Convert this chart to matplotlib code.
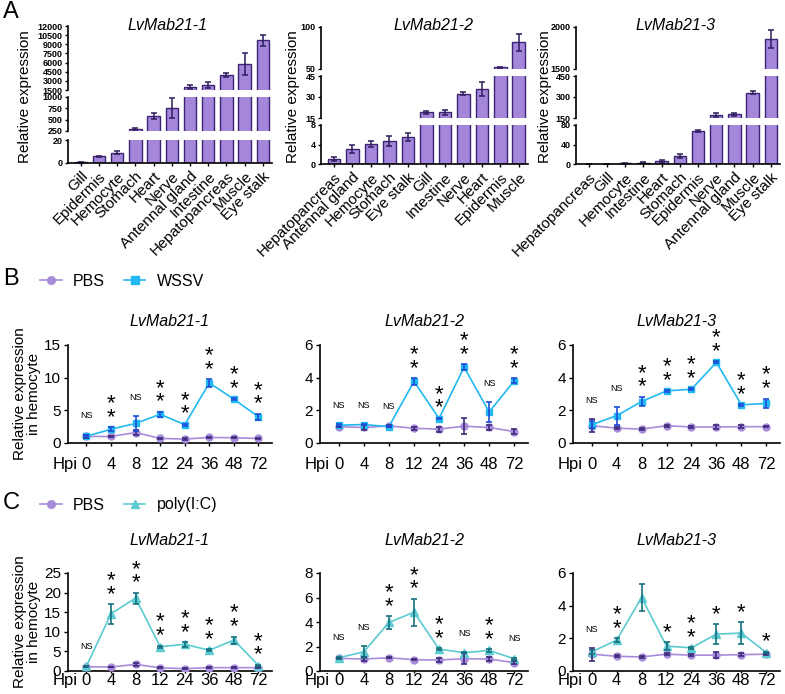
import matplotlib
matplotlib.use("Agg")
import matplotlib.pyplot as plt
from matplotlib.lines import Line2D
import numpy as np

plt.rcParams['font.family'] = ['Liberation Sans', 'DejaVu Sans']

W, H = 785, 694

# ---------------- panel A : tissue distribution ----------------
a1_tissues = ['Gill', 'Epidermis', 'Hemocyte', 'Stomach', 'Heart', 'Nerve',
              'Antennal gland', 'Intestine', 'Hepatopancreas', 'Muscle', 'Eye stalk']
a1_mean = [0.6, 5.7, 9.1, 300, 580, 760, 2000, 2300, 4000, 5800, 9650]
a1_err = [0.3, 0.6, 1.5, 20, 70, 215, 400, 450, 300, 1800, 900]

a2_tissues = ['Hepatopancreas', 'Antennal gland', 'Hemocyte', 'Stomach', 'Eye stalk',
              'Gill', 'Intestine', 'Nerve', 'Heart', 'Epidermis', 'Muscle']
a2_mean = [1.1, 3.15, 4.1, 4.65, 5.6, 19.0, 19.0, 32.5, 35.5, 52, 82]
a2_err = [0.4, 0.8, 0.6, 1.0, 0.8, 1.0, 1.8, 1.3, 5.0, 0.5, 10]

a3_tissues = ['Hepatopancreas', 'Gill', 'Hemocyte', 'Intestine', 'Heart', 'Stomach',
              'Epidermis', 'Nerve', 'Antennal gland', 'Muscle', 'Eye stalk']
a3_mean = [0.3, 0.5, 1.5, 2.5, 6, 16, 67, 169, 176, 332, 1855]
a3_err = [0.1, 0.1, 0.5, 0.8, 3, 4, 2, 15, 12, 12, 110]

# ---------------- panels B and C : time course ----------------
hpi = ['0', '4', '8', '12', '24', '36', '48', '72']

b1_pbs = [1.0, 1.0, 1.6, 0.7, 0.6, 0.85, 0.8, 0.7]
b1_pbs_err = [0.3, 0.1, 0.4, 0.1, 0.1, 0.1, 0.1, 0.1]
b1_wssv = [1.03, 2.1, 3.0, 4.4, 2.8, 9.2, 6.7, 4.0]
b1_wssv_err = [0.15, 0.3, 1.1, 0.4, 0.15, 0.6, 0.15, 0.5]
b1_sig = ['NS', '**', 'NS', '**', '**', '**', '**', '**']

b2_pbs = [1.0, 0.95, 1.05, 0.9, 0.85, 1.03, 0.95, 0.7]
b2_pbs_err = [0.05, 0.15, 0.05, 0.1, 0.15, 0.5, 0.15, 0.15]
b2_wssv = [1.09, 1.13, 1.0, 3.77, 1.5, 4.64, 1.9, 3.8]
b2_wssv_err = [0.05, 0.05, 0.05, 0.2, 0.05, 0.2, 0.6, 0.15]
b2_sig = ['NS', 'NS', 'NS', '**', '**', '**', 'NS', '**']

b3_pbs = [1.06, 0.91, 0.85, 1.06, 0.98, 0.98, 1.0, 1.0]
b3_pbs_err = [0.4, 0.05, 0.05, 0.05, 0.05, 0.15, 0.1, 0.05]
b3_wssv = [1.12, 1.67, 2.54, 3.19, 3.29, 4.94, 2.34, 2.42]
b3_wssv_err = [0.2, 0.55, 0.3, 0.05, 0.05, 0.05, 0.05, 0.3]
b3_sig = ['NS', 'NS', '**', '**', '**', '**', '**', '**']

c1_pbs = [1.1, 1.0, 1.7, 0.8, 0.6, 0.85, 0.85, 0.85]
c1_pbs_err = [0.2, 0.1, 0.3, 0.1, 0.1, 0.1, 0.1, 0.1]
c1_poly = [1.2, 14.6, 18.6, 6.2, 6.8, 5.3, 7.9, 1.4]
c1_poly_err = [0.2, 2.5, 1.4, 0.3, 0.6, 0.3, 0.9, 0.2]
c1_sig = ['NS', '**', '**', '**', '**', '**', '**', '**']

c2_pbs = [1.03, 0.98, 1.08, 0.92, 0.9, 1.0, 0.98, 0.68]
c2_pbs_err = [0.05, 0.15, 0.05, 0.05, 0.15, 0.45, 0.2, 0.1]
c2_poly = [1.08, 1.57, 3.96, 4.8, 1.79, 1.49, 1.68, 1.0]
c2_poly_err = [0.1, 0.5, 0.5, 1.1, 0.1, 0.05, 0.1, 0.1]
c2_sig = ['NS', 'NS', '**', '**', '**', 'NS', '**', 'NS']

c3_pbs = [1.03, 0.9, 0.86, 1.03, 0.97, 0.97, 1.0, 1.03]
c3_pbs_err = [0.4, 0.05, 0.05, 0.05, 0.05, 0.2, 0.1, 0.05]
c3_poly = [1.17, 1.89, 4.5, 1.52, 1.42, 2.26, 2.32, 1.13]
c3_poly_err = [0.1, 0.1, 0.85, 0.25, 0.05, 0.6, 0.65, 0.05]
c3_sig = ['NS', '**', '**', '*', '**', '*', '*', '*']

BAR = '#A486DA'
BAR_EDGE = '#3B2472'
BAR_ERR = '#2E1D5C'
PBS = '#A88BDB'
PBS_ERR = '#3D2B7A'
WSSV = '#22B8F2'
WSSV_ERR = '#1D4ED8'
POLY = '#5CCAD2'
POLY_ERR = '#16707F'

fig = plt.figure(figsize=(W / 100, H / 100), dpi=100)


def px_axes(left, top, right, bottom):
    return fig.add_axes([left / W, 1 - bottom / H, (right - left) / W, (bottom - top) / H])


def broken_bars(left, right, segs, names, mean, err, title, title_x, ylab_x):
    x = np.arange(len(names))
    for k, (lo, hi, ytop, ybot, ticks) in enumerate(segs):
        ax = px_axes(left, ytop, right, ybot)
        ax.bar(x, mean, width=0.68, color=BAR, edgecolor=BAR_EDGE, linewidth=1.0)
        ax.errorbar(x, mean, yerr=err, fmt='none', ecolor=BAR_ERR, elinewidth=1.1,
                    capsize=2.5, capthick=1.1)
        ax.set_ylim(lo, hi)
        ax.set_xlim(-0.7, len(names) - 0.5)
        ax.set_yticks(ticks)
        ax.set_yticklabels([str(t) for t in ticks], fontsize=6.5, fontweight='bold')
        ax.tick_params(axis='y', length=2.5, width=1.0, pad=1.5)
        for s in ['top', 'right']:
            ax.spines[s].set_visible(False)
        ax.spines['left'].set_linewidth(1.2)
        ax.spines['bottom'].set_linewidth(1.2)
        if k == 0:
            ax.set_xticks(x)
            ax.set_xticklabels(names, rotation=45, ha='right', va='top',
                               rotation_mode='anchor', fontsize=11)
            ax.tick_params(axis='x', length=2.5, width=1.0, pad=2)
        else:
            ax.spines['bottom'].set_visible(False)
            ax.set_xticks([])
    fig.text(title_x / W, 1 - 26 / H, title, fontsize=11.5, fontstyle='italic',
             ha='center', va='center')
    fig.text(ylab_x / W, 1 - 97 / H, 'Relative expression', fontsize=11,
             rotation=90, ha='center', va='center')


broken_bars(68, 272,
            [(0, 20, 140, 163, [0, 20]),
             (250, 1000, 97, 131, [250, 500, 750, 1000]),
             (1500, 12000, 26, 90, list(range(1500, 12001, 1500)))],
            a1_tissues, a1_mean, a1_err, 'LvMab21-1', 167, 25)
broken_bars(321, 528,
            [(0, 8, 125, 164, [0, 4, 8]),
             (15, 45, 76, 118, [15, 30, 45]),
             (50, 100, 27, 69, [50, 100])],
            a2_tissues, a2_mean, a2_err, 'LvMab21-2', 434, 293)
broken_bars(576, 780,
            [(0, 80, 125, 164, [0, 40, 80]),
             (150, 450, 76, 118, [150, 300, 450]),
             (1500, 2000, 27, 69, [1500, 2000])],
            a3_tissues, a3_mean, a3_err, 'LvMab21-3', 675, 545)

STAR_SIZE = 16


def time_course(left, right, top, bottom, pbs, pbs_err, trt, trt_err, sig, ymax, yticks,
                color, ecolor, marker, ms, title, title_pad, xlen, xpad):
    ax = px_axes(left, top, right, bottom)
    x = np.arange(len(hpi))
    ax.plot(x, pbs, color=PBS, lw=1.2, marker='o', ms=5, zorder=3)
    ax.plot(x, trt, color=color, lw=1.2, marker=marker, ms=ms, zorder=3)
    ax.errorbar(x, pbs, yerr=pbs_err, fmt='none', ecolor=PBS_ERR, elinewidth=1.2,
                capsize=2.5, capthick=1.2, zorder=4)
    ax.errorbar(x, trt, yerr=trt_err, fmt='none', ecolor=ecolor, elinewidth=1.2,
                capsize=2.5, capthick=1.2, zorder=4)
    ax.set_xlim(-0.75, len(hpi) - 0.45)
    ax.set_ylim(0, ymax)
    ax.set_yticks(yticks)
    ax.set_xticks(x)
    ax.set_xticklabels(hpi, fontsize=12)
    ax.tick_params(axis='y', labelsize=11, length=3, width=1.0, pad=2)
    ax.tick_params(axis='x', length=xlen, width=1.0, pad=xpad)
    for s in ['top', 'right']:
        ax.spines[s].set_visible(False)
    ax.spines['left'].set_linewidth(1.2)
    ax.spines['bottom'].set_linewidth(1.2)
    ax.set_title(title, fontsize=11.5, fontstyle='italic', pad=title_pad)
    ax.annotate('Hpi', xy=(0, 0), xycoords='axes fraction', xytext=(-2, -(xlen + xpad)),
                textcoords='offset points', ha='center', va='top', fontsize=12)
    for i, s in enumerate(sig):
        y = max(pbs[i] + pbs_err[i], trt[i] + trt_err[i]) + 0.17 * ymax
        if s == 'NS':
            ax.text(i, y + 0.02 * ymax, 'NS', fontsize=6.5, ha='center', va='center')
        else:
            ax.annotate('\n'.join(s), xy=(i, y), xytext=(0, -0.79 * STAR_SIZE),
                        textcoords='offset points', ha='center', va='bottom',
                        fontsize=STAR_SIZE, linespacing=0.55)
    return ax


b_axes = [
    time_course(68, 272, 345, 443, b1_pbs, b1_pbs_err, b1_wssv, b1_wssv_err, b1_sig,
                15, [0, 5, 10, 15], WSSV, WSSV_ERR, 's', 5, 'LvMab21-1', 14, 2.5, 7.5),
    time_course(320, 528, 345, 443, b2_pbs, b2_pbs_err, b2_wssv, b2_wssv_err, b2_sig,
                6, [0, 2, 4, 6], WSSV, WSSV_ERR, 's', 5, 'LvMab21-2', 14, 2.5, 7.5),
    time_course(573, 780, 345, 443, b3_pbs, b3_pbs_err, b3_wssv, b3_wssv_err, b3_sig,
                6, [0, 2, 4, 6], WSSV, WSSV_ERR, 's', 5, 'LvMab21-3', 14, 2.5, 7.5),
]
c_axes = [
    time_course(68, 272, 573, 671, c1_pbs, c1_pbs_err, c1_poly, c1_poly_err, c1_sig,
                25, [0, 5, 10, 15, 20, 25], POLY, POLY_ERR, '^', 5.5, 'LvMab21-1', 20, 1.5, 0),
    time_course(320, 528, 573, 671, c2_pbs, c2_pbs_err, c2_poly, c2_poly_err, c2_sig,
                8, [0, 2, 4, 6, 8], POLY, POLY_ERR, '^', 5.5, 'LvMab21-2', 20, 1.5, 0),
    time_course(573, 780, 573, 671, c3_pbs, c3_pbs_err, c3_poly, c3_poly_err, c3_sig,
                6, [0, 2, 4, 6], POLY, POLY_ERR, '^', 5.5, 'LvMab21-3', 20, 1.5, 0),
]

for ypx in [394, 622]:
    fig.text(27 / W, 1 - ypx / H, 'Relative expression\nin hemocyte', fontsize=11,
             rotation=90, ha='center', va='center', linespacing=1.05, multialignment='center')

# legends
for ypx, lab, col, mk in [(281, 'WSSV', WSSV, 's'), (505, 'poly(I:C)', POLY, '^')]:
    handles = [Line2D([], [], color=PBS, marker='o', ms=5.5, lw=1.2),
               Line2D([], [], color=col, marker=mk, ms=6, lw=1.2)]
    fig.legend(handles, ['PBS', lab], loc='center left', bbox_to_anchor=(40 / W, 1 - ypx / H),
               ncol=2, frameon=False, fontsize=11.5, handlelength=1.35, handletextpad=0.7,
               columnspacing=1.2, borderpad=0, borderaxespad=0)

# panel letters
for lab, ypx in [('A', 12), ('B', 279), ('C', 503)]:
    fig.text(3 / W, 1 - ypx / H, lab, fontsize=17, ha='left', va='center')

fig.savefig('out.png', dpi=100)
